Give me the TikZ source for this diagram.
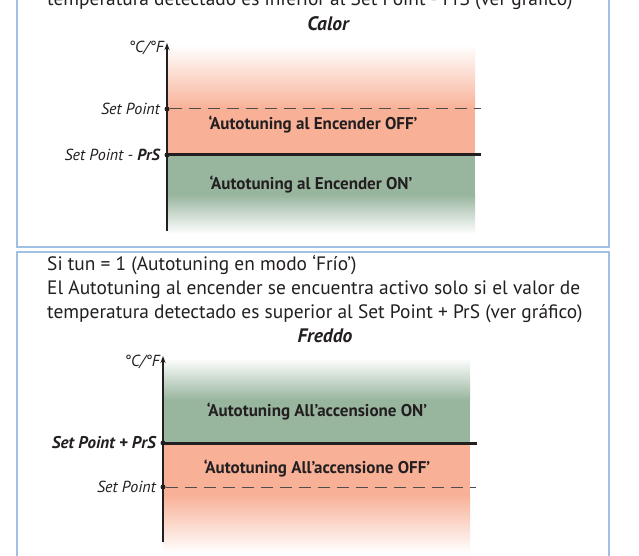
\documentclass[tikz,border=0pt]{standalone}
\usepackage{fontspec}
\setmainfont{PT Sans}
\usetikzlibrary{arrows.meta}
\definecolor{ink}{HTML}{231F20}
\definecolor{salmon}{RGB}{248,176,150}
\definecolor{sage}{RGB}{152,181,158}
\definecolor{framec}{RGB}{160,192,228}
\tikzset{
  body/.style={font=\fontsize{19.4}{22}\selectfont, text=ink, inner sep=0pt},
  title/.style={font=\fontsize{19.5}{22}\selectfont\bfseries\itshape, text=ink, inner sep=0pt, anchor=base},
  axlabel/.style={font=\fontsize{16}{18}\selectfont\itshape, text=ink, inner sep=0pt, anchor=east},
  zonelabel/.style={font=\fontsize{17}{19}\selectfont\bfseries, text=ink, inner sep=0pt},
  axis/.style={ink, line width=2.6pt, -{Stealth[length=7pt,width=5pt]}},
  thickline/.style={ink, line width=3pt},
  dashline/.style={ink!80, line width=1pt, dash pattern=on 12pt off 7pt},
  dot/.style={circle, fill=ink, inner sep=0pt, minimum size=5pt},
  frame/.style={framec, line width=1.4pt}
}
\begin{document}
\begin{tikzpicture}[x=1pt,y=-1pt]
\clip (0,0) rectangle (639,556);
\fill[white] (0,0) rectangle (639,556);
% frames
\draw[frame] (17,-30) rectangle (609,247);
\draw[frame] (17,252) rectangle (609,600);

% ---------- top text ----------
\node[body, anchor=base west] (t0) at (47,6) {temperatura detectado es inferior al Set Point - PrS (ver gráfico)};
\node[title] (calor) at (328,31) {Calor};

% ---------- Calor diagram ----------
\shade[top color=white, bottom color=salmon] (167,45) rectangle (475,110);
\fill[salmon] (167,109.5) rectangle (475,155);
\fill[sage] (167,155) rectangle (475,195);
\shade[top color=sage, bottom color=white] (167,194.5) rectangle (475,234);
\coordinate (a1bot) at (167,231);
\coordinate (a1top) at (167,43);
\draw[axis] (a1bot) -- (a1top);
\node[dot] (sp1) at (167,109) {};
\node[dot] (prs1) at (167,155) {};
\coordinate (sp1end) at (481,109);
\coordinate (prs1end) at (481,155);
\draw[dashline] (sp1) -- (sp1end);
\draw[thickline] (prs1.center) -- (prs1end);
\node[axlabel] (unit1) at (164,48) {°C/°F};
\node[axlabel] (lsp1) at (160,109) {Set Point};
\node[axlabel] (lprs1) at (160,155) {Set Point - \textbf{PrS}};
\node[zonelabel] (off1) at (313,125) {‘Autotuning al Encender OFF’};
\node[zonelabel] (on1) at (311,185) {‘Autotuning al Encender ON’};

% ---------- bottom text ----------
\node[body, anchor=base west] (t1) at (47,270) {Si tun = 1 (Autotuning en modo ‘Frío’)};
\node[body, anchor=base west] (t2) at (47,294) {El Autotuning al encender se encuentra activo solo si el valor de};
\node[body, anchor=base west] (t3) at (47,318) {temperatura detectado es superior al Set Point + PrS (ver gráfico)};
\node[title] (freddo) at (325,342) {Freddo};

% ---------- Freddo diagram ----------
\shade[top color=white, bottom color=sage] (163,358) rectangle (470,400);
\fill[sage] (163,399.5) rectangle (470,443);
\fill[salmon] (163,443) rectangle (470,495);
\shade[top color=salmon, bottom color=white] (163,494.5) rectangle (470,553);
\coordinate (a2bot) at (163,542);
\coordinate (a2top) at (163,356);
\draw[axis] (a2bot) -- (a2top);
\node[dot] (prs2) at (163,443) {};
\node[dot] (sp2) at (163,487) {};
\coordinate (prs2end) at (477,443);
\coordinate (sp2end) at (476,487);
\draw[thickline] (prs2.center) -- (prs2end);
\draw[dashline] (sp2) -- (sp2end);
\node[axlabel] (unit2) at (160,362) {°C/°F};
\node[axlabel, font=\fontsize{17}{19}\selectfont\bfseries\itshape] (lprs2) at (156,443) {Set Point + PrS};
\node[axlabel] (lsp2) at (156,487) {Set Point};
\node[zonelabel] (on2) at (317,412) {‘Autotuning All’accensione ON’};
\node[zonelabel] (off2) at (317,469) {‘Autotuning All’accensione OFF’};
\end{tikzpicture}
\end{document}
